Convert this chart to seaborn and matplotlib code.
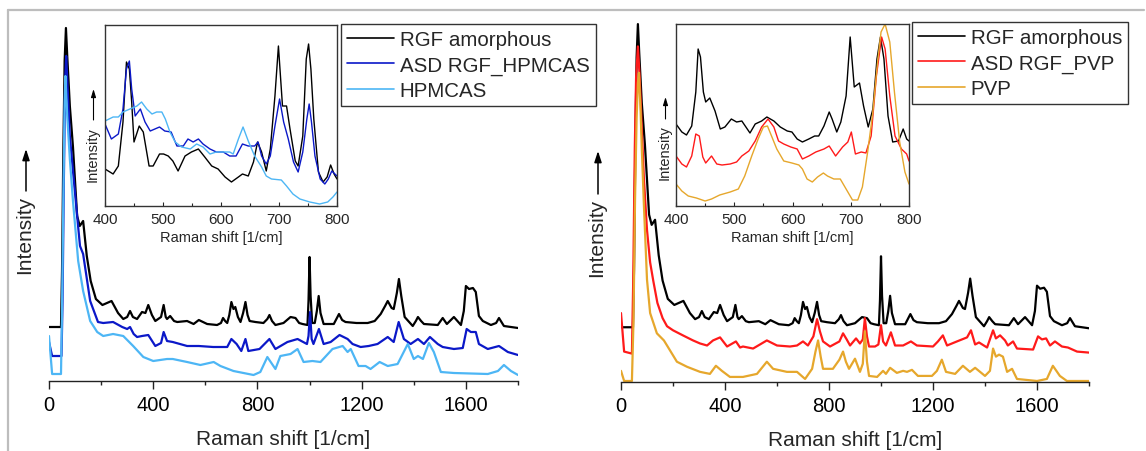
import matplotlib
matplotlib.use('Agg')
import numpy as np
import pandas as pd
import matplotlib.pyplot as plt
import seaborn as sns
from matplotlib.lines import Line2D
from matplotlib.ticker import MultipleLocator

# ---------------- data (intensity in arbitrary units) ----------------
# Main spectra, left panel
rgf_x = [0, 46, 50, 55, 60, 65, 70, 80, 92, 108, 118, 131, 145, 160, 180, 205, 240, 265, 285, 300,
         311, 322, 338, 357, 370, 381, 395, 408, 430, 440, 448, 453, 465, 480, 492, 530, 555, 575, 607, 645,
         660, 668, 676, 684, 692, 700, 708, 715, 725, 735, 745, 754, 762, 770, 792, 823, 838, 846, 856, 869,
         900, 927, 946, 960, 973, 992, 996, 1000, 1004, 1010, 1020, 1028, 1035, 1042, 1054, 1093, 1105, 1113, 1125, 1138,
         1180, 1223, 1250, 1273, 1290, 1300, 1315, 1323, 1335, 1343, 1352, 1365, 1396, 1408, 1416, 1428, 1439, 1492, 1511, 1527,
         1554, 1581, 1592, 1600, 1612, 1627, 1638, 1650, 1665, 1696, 1716, 1727, 1746, 1800]
rgf_y = [54, 54, 110, 230, 320, 353, 325, 275, 234, 165, 155, 160, 125, 100, 82, 76, 80, 68, 62, 64,
         70, 64, 62, 69, 68, 76, 66, 60, 64, 76, 64, 62, 65, 60, 59, 60, 57, 61, 57, 56,
         58, 63, 60, 58, 66, 79, 72, 74, 64, 59, 68, 79, 66, 60, 59, 58, 62, 66, 60, 56,
         58, 64, 63, 58, 57, 56, 80, 124, 85, 58, 58, 70, 85, 68, 57, 57, 63, 67, 61, 59,
         58, 58, 60, 67, 75, 80, 73, 72, 88, 102, 85, 64, 55, 60, 64, 60, 57, 56, 63, 57,
         64, 56, 70, 95, 92, 93, 89, 65, 60, 56, 58, 63, 55, 53]

asd_hpmcas_x = [0, 12, 48, 52, 57, 62, 66, 72, 80, 92, 112, 119, 131, 158, 188, 208, 246, 281, 300, 311,
                325, 338, 357, 381, 408, 430, 440, 453, 475, 530, 575, 630, 684, 700, 720, 738, 754, 765, 808, 846,
                869, 915, 954, 990, 996, 1002, 1008, 1015, 1036, 1054, 1081, 1115, 1146, 1165, 1196, 1227, 1261, 1300, 1323, 1342,
                1362, 1388, 1416, 1439, 1462, 1492, 1511, 1554, 1588, 1603, 1619, 1638, 1650, 1684, 1727, 1761, 1800]
asd_hpmcas_y = [39, 25, 25, 80, 200, 300, 325, 290, 245, 210, 154, 135, 127, 80, 59, 58, 59, 54, 52, 54,
                47, 44, 45, 46, 35, 38, 49, 40, 39, 35, 35, 34, 34, 42, 37, 30, 42, 30, 32, 42,
                32, 39, 42, 37, 45, 69, 42, 37, 52, 37, 39, 46, 42, 37, 34, 35, 37, 44, 39, 59,
                42, 37, 42, 37, 44, 37, 34, 32, 33, 52, 49, 49, 37, 32, 35, 29, 26]

hpmcas_x = [0, 12, 46, 50, 55, 60, 63, 70, 80, 92, 112, 131, 158, 185, 208, 246, 285, 323, 362, 400,
            453, 475, 530, 581, 632, 658, 708, 785, 811, 838, 869, 888, 927, 954, 977, 1011, 1042, 1088, 1127, 1146,
            1158, 1188, 1215, 1234, 1269, 1300, 1338, 1377, 1400, 1416, 1435, 1458, 1477, 1504, 1554, 1684, 1723, 1746, 1773, 1800]
hpmcas_y = [45, 7, 7, 70, 180, 280, 305, 265, 222, 180, 120, 90, 60, 49, 45, 47, 45, 35, 24, 20,
            22, 22, 19, 16, 19, 15, 10, 6, 9, 24, 12, 25, 27, 32, 19, 20, 19, 32, 35, 29,
            32, 15, 15, 12, 19, 15, 17, 37, 22, 25, 22, 38, 29, 9, 8, 7, 10, 16, 10, 6]

# Main spectra, right panel
asd_pvp_x = [0, 12, 42, 47, 53, 58, 65, 72, 80, 88, 100, 112, 124, 140, 160, 177, 200, 238, 277, 304,
             331, 354, 381, 408, 442, 458, 469, 508, 561, 600, 650, 677, 700, 719, 740, 754, 765, 777, 804, 840,
             854, 868, 881, 904, 919, 930, 938, 946, 954, 977, 990, 1000, 1008, 1019, 1038, 1054, 1085, 1115, 1138, 1200,
             1219, 1238, 1254, 1292, 1331, 1346, 1362, 1377, 1408, 1431, 1442, 1458, 1477, 1488, 1508, 1523, 1585, 1604, 1619, 1635,
             1650, 1669, 1696, 1719, 1754, 1800]
asd_pvp_y = [68, 30, 28, 100, 230, 300, 331, 300, 250, 201, 150, 118, 100, 78, 63, 55, 51, 46, 41, 38,
             36, 41, 44, 35, 40, 34, 35, 33, 41, 36, 35, 36, 40, 36, 45, 62, 50, 40, 35, 40,
             48, 42, 36, 43, 38, 42, 63, 45, 35, 35, 37, 56, 40, 36, 49, 36, 36, 40, 36, 35,
             40, 46, 36, 40, 44, 51, 37, 39, 34, 51, 43, 46, 41, 36, 40, 33, 32, 45, 42, 43,
             36, 40, 35, 34, 30, 29]

pvp_x = [0, 12, 42, 48, 54, 60, 65, 69, 75, 80, 88, 100, 112, 138, 165, 177, 215, 254, 304, 342,
         365, 388, 419, 469, 523, 561, 585, 638, 677, 708, 735, 748, 758, 768, 777, 815, 840, 854, 865, 877,
         900, 919, 930, 938, 946, 954, 985, 1008, 1019, 1035, 1061, 1085, 1100, 1119, 1142, 1196, 1215, 1234, 1250, 1285,
         1315, 1342, 1362, 1381, 1400, 1419, 1431, 1442, 1454, 1469, 1485, 1504, 1523, 1600, 1638, 1661, 1688, 1715, 1800]
pvp_y = [11, 1, 1, 60, 180, 260, 295, 305, 270, 230, 175, 101, 68, 48, 41, 36, 20, 15, 10, 8,
         16, 11, 5, 5, 8, 20, 13, 10, 10, 3, 13, 30, 41, 25, 13, 13, 22, 30, 20, 13,
         23, 10, 18, 50, 20, 6, 5, 11, 8, 14, 9, 11, 10, 12, 6, 6, 11, 22, 10, 8,
         16, 10, 14, 10, 6, 11, 33, 25, 27, 25, 10, 13, 3, 1, 3, 16, 6, 1, 1]

# Inset (400-800 1/cm), left
ins_rgf_x = [400, 414, 423, 431, 437, 442, 446, 450, 459, 466, 476, 483, 494, 501, 509, 517, 526, 538, 549, 561,
             572, 584, 595, 607, 618, 630, 637, 647, 656, 663, 670, 678, 685, 693, 699, 706, 713, 719, 728, 733,
             741, 747, 751, 755, 760, 768, 776, 783, 789, 795, 800]
ins_rgf_y = [37, 32, 40, 84, 144, 137, 104, 64, 80, 74, 40, 40, 52, 52, 50, 45, 35, 50, 54, 57,
             49, 40, 37, 29, 24, 29, 32, 30, 44, 64, 54, 35, 57, 110, 160, 100, 100, 77, 45, 40,
             70, 147, 162, 137, 87, 34, 24, 29, 41, 32, 27]
ins_asdh_x = [400, 411, 423, 431, 437, 442, 446, 452, 461, 469, 478, 486, 494, 503, 514, 524, 535, 543, 552, 561,
              569, 581, 592, 604, 615, 626, 637, 647, 658, 664, 670, 678, 685, 693, 701, 708, 716, 725, 733, 741,
              748, 752, 756, 762, 771, 779, 785, 791, 800]
ins_asdh_y = [82, 67, 72, 97, 137, 145, 117, 90, 97, 84, 75, 77, 79, 75, 74, 60, 60, 67, 64, 67,
              62, 57, 54, 54, 50, 50, 62, 60, 60, 64, 50, 42, 50, 80, 107, 84, 67, 44, 34, 54,
              87, 102, 84, 50, 27, 22, 27, 35, 30]
ins_hpm_x = [400, 414, 423, 431, 443, 455, 463, 472, 481, 489, 498, 504, 512, 521, 532, 547, 558, 569, 581, 592,
             604, 615, 621, 630, 638, 647, 658, 670, 678, 687, 704, 713, 724, 736, 753, 770, 784, 793, 800]
ins_hpm_y = [85, 89, 89, 94, 97, 100, 104, 97, 92, 94, 94, 87, 74, 64, 59, 57, 62, 59, 52, 54,
             54, 54, 52, 67, 79, 65, 50, 39, 30, 27, 26, 20, 12, 7, 4, 2, 4, 9, 14]

# Inset (400-800 1/cm), right
ins_rgf2_x = [400, 410, 418, 427, 434, 438, 442, 447, 451, 458, 467, 476, 484, 495, 504, 513, 520, 527, 536, 547,
              556, 568, 579, 591, 599, 608, 617, 628, 638, 645, 654, 663, 668, 676, 683, 692, 699, 706, 715, 722,
              730, 738, 745, 751, 757, 764, 772, 782, 790, 796, 800]
ins_rgf2_y = [82, 74, 71, 80, 114, 157, 149, 114, 104, 108, 95, 77, 79, 87, 84, 85, 79, 73, 82, 85,
              89, 85, 79, 75, 74, 67, 64, 67, 70, 70, 80, 94, 87, 74, 84, 110, 169, 119, 123, 100,
              79, 97, 147, 169, 147, 90, 64, 65, 77, 67, 65]
ins_asdp_x = [400, 410, 418, 427, 434, 440, 446, 451, 461, 470, 479, 493, 504, 513, 525, 536, 547, 558, 568, 576,
              585, 597, 608, 617, 628, 640, 654, 663, 674, 686, 695, 701, 708, 718, 726, 735, 744, 753, 759, 767,
              776, 787, 796, 800]
ins_asdp_y = [50, 42, 39, 50, 72, 70, 49, 43, 50, 42, 41, 42, 44, 50, 55, 65, 79, 87, 79, 65,
              62, 59, 57, 47, 50, 54, 57, 60, 50, 59, 64, 74, 52, 54, 53, 70, 130, 169, 157, 110,
              70, 57, 52, 45]
ins_pvp_x = [400, 410, 421, 435, 450, 461, 475, 493, 507, 518, 530, 541, 550, 557, 564, 573, 585, 599, 611, 617,
             625, 634, 643, 653, 660, 671, 682, 692, 703, 712, 720, 729, 738, 746, 752, 759, 767, 775, 784, 793,
             800]
ins_pvp_y = [22, 15, 10, 8, 5, 7, 11, 14, 17, 30, 50, 67, 79, 80, 70, 57, 45, 43, 41, 37,
             27, 24, 29, 33, 30, 27, 27, 17, 6, 6, 19, 54, 94, 144, 174, 182, 164, 114, 64, 34,
             22]

labels_left = ['RGF amorphous', 'ASD RGF_HPMCAS', 'HPMCAS']
labels_right = ['RGF amorphous', 'ASD RGF_PVP', 'PVP']
colors_left = ['#000000', '#0B18C8', '#4DB6F5']
colors_right = ['#000000', '#FF1A1A', '#E6A72C']
xticks_main = [0, 400, 800, 1200, 1600]
xticks_inset = [400, 500, 600, 700, 800]


def frame(pairs, labels):
    parts = []
    for (xs, ys), lab in zip(pairs, labels):
        parts.append(pd.DataFrame({'x': xs, 'y': ys, 'series': lab}))
    return pd.concat(parts, ignore_index=True)


df_left = frame([(rgf_x, rgf_y), (asd_hpmcas_x, asd_hpmcas_y), (hpmcas_x, hpmcas_y)], labels_left)
df_right = frame([(rgf_x, rgf_y), (asd_pvp_x, asd_pvp_y), (pvp_x, pvp_y)], labels_right)
df_insl = frame([(ins_rgf_x, ins_rgf_y), (ins_asdh_x, ins_asdh_y), (ins_hpm_x, ins_hpm_y)], labels_left)
df_insr = frame([(ins_rgf2_x, ins_rgf2_y), (ins_asdp_x, ins_asdp_y), (ins_pvp_x, ins_pvp_y)], labels_right)

# ---------------- styling ----------------
sns.set_style('ticks')
plt.rcParams['font.family'] = ['Liberation Sans', 'DejaVu Sans']
plt.rcParams['axes.linewidth'] = 1.0

W, H = 1146, 452
fig = plt.figure(figsize=(W / 100, H / 100), dpi=100)
fig.patch.set_facecolor('white')


def rect(x0, y0, x1, y1):
    return [x0 / W, 1 - y1 / H, (x1 - x0) / W, (y1 - y0) / H]


def fpt(px, py):
    return (px / W, 1 - py / H)


axL = fig.add_axes(rect(49, 17, 518, 382))
axR = fig.add_axes(rect(621, 18, 1089, 383))
insL = fig.add_axes(rect(105, 26, 337, 207))
insR = fig.add_axes(rect(676, 25, 909, 207))

for ax, df, cols, ymax in [(axL, df_left, colors_left, 365), (axR, df_right, colors_right, 360)]:
    sns.lineplot(data=df, x='x', y='y', hue='series', palette=cols, sort=False, estimator=None,
                 linewidth=1.6, legend=False, ax=ax)
    ax.set_xlim(0, 1800)
    ax.set_ylim(0, ymax)
    for s in ['top', 'right', 'left']:
        ax.spines[s].set_visible(False)
    ax.spines['bottom'].set_color('#222222')
    ax.set_yticks([])
    ax.set_xticks(xticks_main)
    ax.xaxis.set_minor_locator(MultipleLocator(200))
    ax.tick_params(axis='x', which='major', direction='out', length=6, width=1, labelsize=14.5, pad=4,
                   colors='#222222', labelcolor='black')
    ax.tick_params(axis='x', which='minor', direction='out', length=3, width=1, colors='#222222')
    ax.set_xlabel('Raman shift [1/cm]', fontsize=15, labelpad=11)
    ax.set_ylabel('')
    ax.patch.set_alpha(0)

for ax, df, cols, ymax in [(insL, df_insl, colors_left, 181), (insR, df_insr, colors_right, 182)]:
    sns.lineplot(data=df, x='x', y='y', hue='series', palette=cols, sort=False, estimator=None,
                 linewidth=1.0, legend=False, ax=ax)
    ax.set_xlim(400, 800)
    ax.set_ylim(0, ymax)
    ax.set_yticks([])
    ax.set_xticks(xticks_inset)
    ax.xaxis.set_minor_locator(MultipleLocator(50))
    for s in ax.spines.values():
        s.set_visible(True)
        s.set_color('#333333')
        s.set_linewidth(1.0)
    ax.tick_params(axis='x', which='major', direction='in', length=3, width=0.8, labelsize=11, pad=4)
    ax.tick_params(axis='x', which='minor', direction='in', length=2, width=0.8)
    ax.set_xlabel('Raman shift [1/cm]', fontsize=10.5, labelpad=3)
    ax.set_ylabel('')
    ax.set_facecolor('white')

# y labels: "Intensity" with an upward arrow above it
ylab_specs = [  # x, text centre y, arrow bottom y, arrow top y, fontsize
    (25, 235, 192, 150, 15),
    (597, 238, 195, 152, 15),
    (93, 155, 121, 90, 10.5),
    (665, 153, 120, 98, 10.5),
]
for x, ty, ab, at, fs in ylab_specs:
    fig.text(*fpt(x, ty), 'Intensity', rotation=90, ha='center', va='center', fontsize=fs)
    hw = 0.18 if fs > 12 else 0.12
    fig.add_artist(matplotlib.patches.FancyArrowPatch(
        fpt(x + (1 if fs > 12 else 0.5), ab), fpt(x + (1 if fs > 12 else 0.5), at),
        transform=fig.transFigure, arrowstyle=f'-|>,head_length={0.55 if fs > 12 else 0.4},head_width={hw}',
        mutation_scale=12, lw=1.1 if fs > 12 else 0.8, color='black', shrinkA=0, shrinkB=0))

# legends
for labs, cols, anchor in [(labels_left, colors_left, (341, 25)), (labels_right, colors_right, (912, 23))]:
    handles = [Line2D([], [], color=c, lw=1.2) for c in cols]
    leg = fig.legend(handles, labs, loc='upper left', bbox_to_anchor=(anchor[0] / W, 1 - anchor[1] / H),
                     frameon=True, fancybox=False, edgecolor='#333333', framealpha=1, fontsize=14.8,
                     handlelength=2.3, handletextpad=0.25, labelspacing=0.3, borderpad=0.3, borderaxespad=0)
    leg.get_frame().set_linewidth(1.0)

# outer light-grey frame (top and left edges)
fig.add_artist(Line2D([8 / W, 1144 / W], [1 - 11 / H, 1 - 11 / H], color='#bdbdbd', lw=1.6,
                      transform=fig.transFigure))
fig.add_artist(Line2D([8 / W, 8 / W], [1 - 11 / H, 0], color='#bdbdbd', lw=1.6,
                      transform=fig.transFigure))

fig.savefig('out.png', dpi=100, facecolor='white')
